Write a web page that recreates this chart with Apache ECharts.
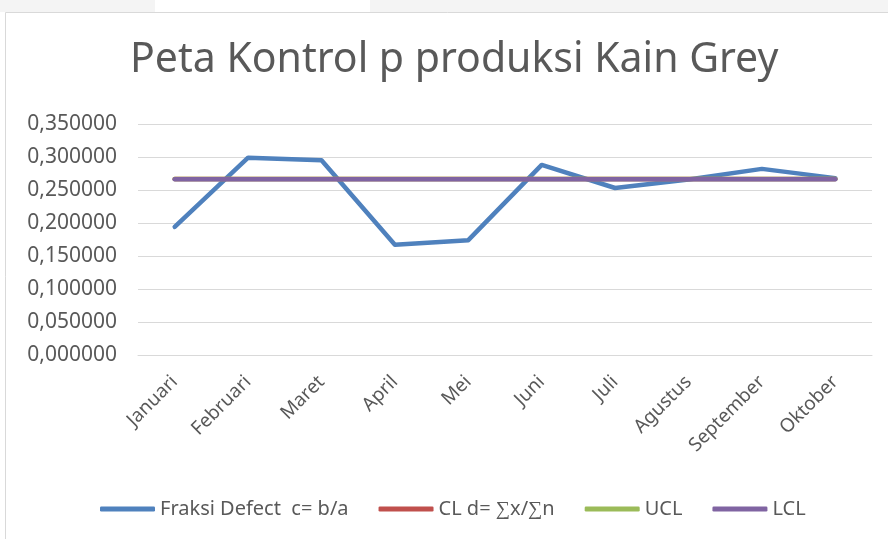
<!DOCTYPE html>
<html>
<head>
<meta charset="utf-8">
<script src="https://cdn.jsdelivr.net/npm/echarts@6/dist/echarts.min.js"></script>
<style>
  html, body { margin: 0; padding: 0; background: #fff; }
  #chart { width: 888px; height: 539px; }
</style>
</head>
<body>
<div id="chart"></div>
<script>
const months = ['Januari', 'Februari', 'Maret', 'April', 'Mei', 'Juni', 'Juli', 'Agustus', 'September', 'Oktober']
const fraksiDefect = [0.194, 0.299, 0.295, 0.167, 0.174, 0.288, 0.253, 0.266, 0.282, 0.268]
const clValues = [0.2665, 0.2665, 0.2665, 0.2665, 0.2665, 0.2665, 0.2665, 0.2665, 0.2665, 0.2665]
const uclValues = [0.2666, 0.2666, 0.2666, 0.2666, 0.2666, 0.2666, 0.2666, 0.2666, 0.2666, 0.2666]
const lclValues = [0.2664, 0.2664, 0.2664, 0.2664, 0.2664, 0.2664, 0.2664, 0.2664, 0.2664, 0.2664]
const seriesNames = ['Fraksi Defect  c= b/a', 'CL d= \u2211x/\u2211n', 'UCL', 'LCL']

const font = 'Noto Sans'
const textColor = '#595959'

const myChart = echarts.init(document.getElementById('chart'))

const lineSeries = (name, data, color) => ({
  name,
  type: 'line',
  data,
  symbol: 'none',
  lineStyle: { width: 4.5, color, cap: 'round', join: 'round' },
  itemStyle: { color },
  animation: false
})

const options = {
  backgroundColor: '#fff',
  textStyle: { fontFamily: font },
  graphic: [
    { type: 'rect', z: -10, shape: { x: 0, y: 0, width: 888, height: 12 }, style: { fill: '#f4f4f4' } },
    { type: 'rect', z: -9, shape: { x: 155, y: 0, width: 215, height: 12 }, style: { fill: '#fff' } },
    { type: 'rect', z: -8, shape: { x: 5.5, y: 12.5, width: 900, height: 560 }, style: { fill: '#fff', stroke: '#d9d9d9', lineWidth: 1 } }
  ],
  title: {
    text: 'Peta Kontrol p produksi Kain Grey',
    left: 130,
    top: 40,
    padding: 0,
    textStyle: { fontFamily: font, fontSize: 41, fontWeight: 'normal', color: textColor }
  },
  legend: {
    bottom: 20,
    left: 100,
    padding: 0,
    itemWidth: 55,
    itemHeight: 5,
    itemGap: 30,
    icon: 'roundRect',
    textStyle: { fontFamily: font, fontSize: 20, color: textColor },
    data: seriesNames
  },
  grid: {
    left: 138,
    right: 16,
    top: 124,
    bottom: 184
  },
  xAxis: {
    type: 'category',
    data: months,
    boundaryGap: true,
    axisLine: { lineStyle: { color: '#d9d9d9', width: 1 } },
    axisTick: { show: false },
    axisLabel: {
      rotate: 45,
      margin: 24,
      fontFamily: font,
      fontSize: 19,
      color: textColor,
      interval: 0
    }
  },
  yAxis: {
    type: 'value',
    min: 0,
    max: 0.35,
    interval: 0.05,
    axisLine: { show: false },
    axisTick: { show: false },
    splitLine: { lineStyle: { color: '#d9d9d9', width: 1 } },
    axisLabel: {
      margin: 21,
      fontFamily: font,
      fontSize: 21,
      color: textColor,
      formatter: v => v.toFixed(6).replace('.', ',')
    }
  },
  series: [
    lineSeries(seriesNames[0], fraksiDefect, '#4f81bd'),
    lineSeries(seriesNames[1], clValues, '#c0504d'),
    lineSeries(seriesNames[2], uclValues, '#9bbb59'),
    lineSeries(seriesNames[3], lclValues, '#8064a2')
  ]
}

myChart.setOption(options)
</script>
</body>
</html>
